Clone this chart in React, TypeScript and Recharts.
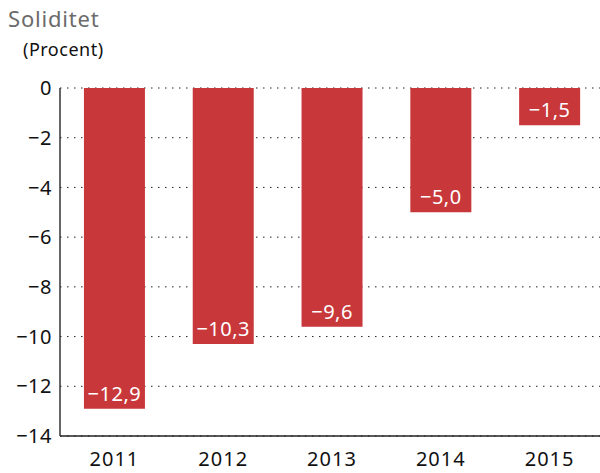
import { Bar, BarChart, CartesianGrid, LabelList, XAxis, YAxis } from 'recharts';

const years = ['2011', '2012', '2013', '2014', '2015'];
const soliditet = [-12.9, -10.3, -9.6, -5.0, -1.5];
const yTicks = [0, -2, -4, -6, -8, -10, -12, -14];

const data = years.map((year, i) => ({ year, value: soliditet[i] }));

const fmt = (v: number, decimals: number) => {
  const s = Math.abs(v).toFixed(decimals).replace('.', ',');
  return v < 0 ? `\u2212${s}` : s;
};

const font = '"Noto Sans", sans-serif';

export default function App() {
  return (
    <div
      style={{
        position: 'absolute',
        left: 0,
        top: 0,
        width: 600,
        height: 473,
        overflow: 'hidden',
        background: '#fff',
        fontFamily: font,
      }}
    >
      <div
        style={{
          position: 'absolute',
          left: 8,
          top: 3,
          fontSize: 22,
          letterSpacing: 0.8,
          color: '#6b6b6b',
        }}
      >
        Soliditet
      </div>
      <div
        style={{
          position: 'absolute',
          left: 23,
          top: 37,
          fontSize: 18,
          letterSpacing: 0.5,
          color: '#111',
        }}
      >
        (Procent)
      </div>
      <BarChart
        width={604}
        height={473}
        data={data}
        margin={{ top: 88, right: 0, left: 0, bottom: 0 }}
        barCategoryGap="22%"
      >
        <CartesianGrid
          horizontal
          vertical={false}
          stroke="#222"
          strokeDasharray="1.5 5.5"
        />
        <XAxis
          dataKey="year"
          height={37}
          tickLine={false}
          axisLine={{ stroke: '#222', strokeWidth: 1.5 }}
          tickMargin={10}
          tick={{ fill: '#111', fontSize: 20, fontFamily: font, letterSpacing: 1 }}
        />
        <YAxis
          width={60}
          domain={[-14, 0]}
          ticks={yTicks}
          interval={0}
          tickLine={false}
          axisLine={{ stroke: '#333', strokeWidth: 1.5 }}
          tickFormatter={(v: number) => fmt(v, 0)}
          tick={{ fill: '#111', fontSize: 20, fontFamily: font, letterSpacing: 0.5 }}
        />
        <Bar dataKey="value" fill="#c8373a" isAnimationActive={false}>
          <LabelList
            dataKey="value"
            position="insideTop"
            offset={8}
            formatter={(v: number) => fmt(v, 1)}
            fill="#fff"
            style={{ fontSize: 20, fontFamily: font, letterSpacing: 0.5 }}
          />
        </Bar>
      </BarChart>
    </div>
  );
}
